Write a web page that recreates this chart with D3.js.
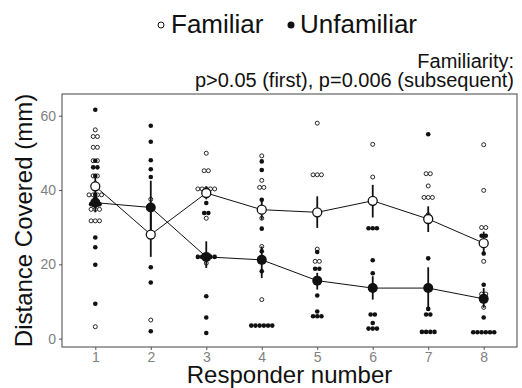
<!DOCTYPE html>
<html>
<head>
<meta charset="utf-8">
<script src="https://cdn.jsdelivr.net/npm/d3@7"></script>
<style>
  body { margin: 0; background: #fff; }
  text { font-family: "Liberation Sans", Arial, sans-serif; }
</style>
</head>
<body>
<div id="chart"></div>
<script>
// Data
var responders = [1, 2, 3, 4, 5, 6, 7, 8];

var familiarDots = [
  [56.2, 54.4, 54.4, 51.5, 51.5, 47.9, 47.9, 43.8, 43.8, 41.8, 38.7, 38.7, 38.7, 38.7, 34.8, 34.8, 34.8, 31.7, 31.7, 31.7, 3.2],
  [37.5, 5.0],
  [49.9, 45.2, 45.2, 40.3, 40.3, 40.3, 40.3, 40.3, 32.4, 20.3],
  [49.2, 42.6, 40.7, 40.7, 32.4, 24.8, 10.5],
  [58.0, 44.1, 44.1, 44.1, 24.1, 20.8, 20.8],
  [52.3, 43.5],
  [44.4, 44.4, 41.1, 38.0, 38.0, 38.0, 33.4],
  [52.2, 39.9, 29.9, 29.9, 20.8, 12.0, 12.0, 8.4]
];

var unfamiliarDots = [
  [61.6, 47.9, 46.1, 46.1, 43.8, 38.7, 37.8, 36.2, 36.2, 36.2, 27.2, 24.6, 19.9, 9.4],
  [57.3, 53.0, 48.0, 45.6, 43.5, 35.3, 19.2, 15.1, 2.0],
  [36.5, 33.8, 33.8, 22.0, 22.0, 22.0, 22.0, 22.0, 11.4, 5.7, 1.5],
  [47.7, 45.4, 37.4, 29.6, 23.5, 21.2, 18.1, 3.5, 3.5, 3.5, 3.5, 3.5, 3.5],
  [23.3, 18.8, 18.8, 11.6, 7.3, 6.0, 6.0, 6.0],
  [29.7, 29.7, 29.7, 21.1, 17.6, 6.5, 6.5, 4.2, 2.7, 2.7, 2.7],
  [55.0, 21.6, 8.0, 6.5, 6.5, 1.8, 1.8, 1.8, 1.8],
  [27.7, 27.7, 22.9, 14.5, 5.7, 1.7, 1.7, 1.7, 1.7, 1.7, 1.7]
];

var familiarMean = [41.0, 28.0, 39.2, 34.7, 34.0, 37.1, 32.2, 25.7];
var familiarLo   = [38.5, 22.0, 37.5, 32.0, 29.8, 32.6, 28.7, 22.6];
var familiarHi   = [43.5, 34.0, 41.0, 37.4, 38.3, 41.4, 35.6, 28.8];

var unfamiliarMean = [36.6, 35.3, 22.0, 21.2, 15.6, 13.6, 13.6, 10.7];
var unfamiliarLo   = [34.0, 28.5, 19.0, 16.3, 13.2, 10.5, 8.3, 8.3];
var unfamiliarHi   = [39.5, 42.5, 26.2, 24.8, 17.7, 16.8, 19.2, 13.6];

var yTicks = [0, 20, 40, 60];

// Dimensions
var margin = {top: 94, right: 5, bottom: 41, left: 62},
    width = 522 - margin.left - margin.right,
    height = 388 - margin.top - margin.bottom;

var svg = d3.select("#chart")
  .append("svg")
    .attr("width", 522)
    .attr("height", 388);

var g = svg.append("g")
    .attr("transform", "translate(" + margin.left + "," + margin.top + ")");

var x = d3.scaleLinear()
  .domain([0.4, 8.6])
  .range([0, width]);

var y = d3.scaleLinear()
  .domain([-2.26, 65.85])
  .range([height, 0]);

// Axes
var xAxis = g.append("g")
  .attr("transform", "translate(0," + height + ")")
  .call(d3.axisBottom(x).tickValues(responders).tickFormat(d3.format("d")).tickSize(3).tickPadding(2));

var yAxis = g.append("g")
  .call(d3.axisLeft(y).tickValues(yTicks).tickSize(3).tickPadding(3));

[xAxis, yAxis].forEach(function(a) {
  a.select(".domain").remove();
  a.selectAll(".tick line").attr("stroke", "#555");
  a.selectAll(".tick text")
    .attr("fill", "#7f7f7f")
    .style("font-size", "14px")
    .style("font-family", "'Liberation Sans', Arial, sans-serif");
});

// Panel border
g.append("rect")
  .attr("width", width)
  .attr("height", height)
  .attr("fill", "none")
  .attr("stroke", "#444")
  .attr("stroke-width", 1);

// Dot plot: identical values stacked side by side, centred on the responder
var dotR = 2, dotStep = 4.2;

function stackDots(values, i) {
  var counts = d3.rollup(values, function(v) { return v.length; }, function(v) { return v; });
  var out = [];
  counts.forEach(function(n, v) {
    for (var k = 0; k < n; k++) {
      out.push({xpos: x(responders[i]) + (k - (n - 1) / 2) * dotStep, ypos: y(v)});
    }
  });
  return out;
}

var famPts = [], unfPts = [];
responders.forEach(function(r, i) {
  famPts = famPts.concat(stackDots(familiarDots[i], i));
  unfPts = unfPts.concat(stackDots(unfamiliarDots[i], i));
});

g.selectAll(".fam")
  .data(famPts)
  .enter()
  .append("circle")
    .attr("cx", function(d) { return d.xpos; })
    .attr("cy", function(d) { return d.ypos; })
    .attr("r", dotR)
    .attr("fill", "#fff")
    .attr("stroke", "#111")
    .attr("stroke-width", 0.9);

g.selectAll(".unf")
  .data(unfPts)
  .enter()
  .append("circle")
    .attr("cx", function(d) { return d.xpos; })
    .attr("cy", function(d) { return d.ypos; })
    .attr("r", dotR + 0.3)
    .attr("fill", "#111");

// Lines through the means
var line = d3.line()
  .x(function(d, i) { return x(responders[i]); })
  .y(function(d) { return y(d); });

[familiarMean, unfamiliarMean].forEach(function(m) {
  g.append("path")
    .datum(m)
    .attr("d", line)
    .attr("fill", "none")
    .attr("stroke", "#111")
    .attr("stroke-width", 1);
});

// Error bars
function errorBars(lo, hi) {
  g.selectAll(null)
    .data(responders)
    .enter()
    .append("line")
      .attr("x1", function(d) { return x(d); })
      .attr("x2", function(d) { return x(d); })
      .attr("y1", function(d, i) { return y(lo[i]); })
      .attr("y2", function(d, i) { return y(hi[i]); })
      .attr("stroke", "#111")
      .attr("stroke-width", 1.8);
}
errorBars(familiarLo, familiarHi);
errorBars(unfamiliarLo, unfamiliarHi);

// Means
g.selectAll(null)
  .data(familiarMean)
  .enter()
  .append("circle")
    .attr("cx", function(d, i) { return x(responders[i]); })
    .attr("cy", function(d) { return y(d); })
    .attr("r", 4.5)
    .attr("fill", "#fff")
    .attr("stroke", "#111")
    .attr("stroke-width", 1.3);

g.selectAll(null)
  .data(unfamiliarMean)
  .enter()
  .append("circle")
    .attr("cx", function(d, i) { return x(responders[i]); })
    .attr("cy", function(d) { return y(d); })
    .attr("r", 5)
    .attr("fill", "#111");

// Axis titles
svg.append("text")
  .attr("x", margin.left + width / 2)
  .attr("y", 383)
  .attr("text-anchor", "middle")
  .style("font-size", "24px")
  .attr("fill", "#111")
  .text("Responder number");

svg.append("text")
  .attr("transform", "translate(32," + (margin.top + height / 2) + ") rotate(-90)")
  .attr("text-anchor", "middle")
  .style("font-size", "24px")
  .attr("fill", "#111")
  .text("Distance Covered (mm)");

// Legend
svg.append("circle").attr("cx", 161).attr("cy", 25).attr("r", 3)
  .attr("fill", "#fff").attr("stroke", "#111").attr("stroke-width", 1);
svg.append("text").attr("x", 171).attr("y", 33)
  .style("font-size", "26px").attr("fill", "#111").text("Familiar");
svg.append("circle").attr("cx", 291).attr("cy", 25).attr("r", 3.5)
  .attr("fill", "#111");
svg.append("text").attr("x", 300).attr("y", 33)
  .style("font-size", "26px").attr("fill", "#111").text("Unfamiliar");

// Annotation
svg.append("text").attr("x", 514).attr("y", 68).attr("text-anchor", "end")
  .style("font-size", "20px").attr("fill", "#111").text("Familiarity:");
svg.append("text").attr("x", 514).attr("y", 87).attr("text-anchor", "end")
  .style("font-size", "20px").attr("fill", "#111").text("p>0.05 (first), p=0.006 (subsequent)");
</script>
</body>
</html>
